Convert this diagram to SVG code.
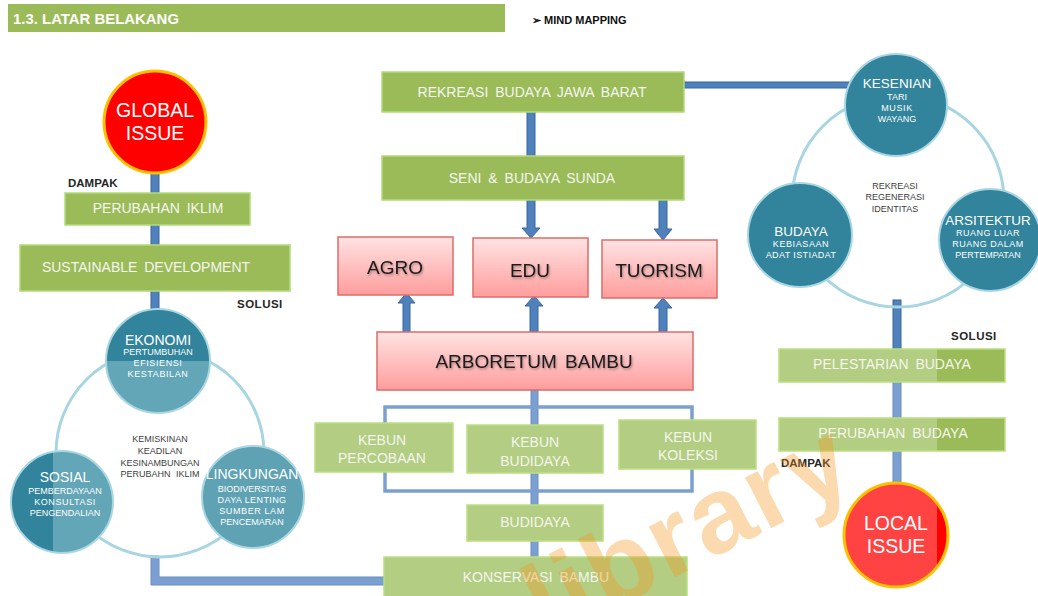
<svg xmlns="http://www.w3.org/2000/svg" width="1038" height="596" viewBox="0 0 1038 596">
<defs>
<style>
.t{font-family:"Liberation Sans",Arial,sans-serif}
.gb{fill:#9bbb59;stroke:#b2dc78;stroke-width:1.5}
.gl{fill:#b3cd82;stroke:#b9e07f;stroke-width:1.5}
.gt{font-family:"Liberation Sans",Arial,sans-serif;font-size:14px;fill:#f4f6ee;text-anchor:middle;word-spacing:3px}
.pk{fill:url(#pink);stroke:#dc6d6a;stroke-width:1.5}
.pt{font-family:"Liberation Sans",Arial,sans-serif;font-size:19px;fill:#1a1a1a;text-anchor:middle;filter:url(#sh)}
.bar{fill:#4f81bd;stroke:#3b669a;stroke-width:1}
.barl{fill:#7b9fd0;stroke:#6a8ec0;stroke-width:1}
.lbl{font-family:"Liberation Sans",Arial,sans-serif;font-size:11.5px;font-weight:bold;fill:#262626}
.ct{font-family:"Liberation Sans",Arial,sans-serif;fill:#ffffff;text-anchor:middle}
.big{font-size:14px}
.sm{font-size:9px}
.mid{font-family:"Liberation Sans",Arial,sans-serif;font-size:9px;fill:#404040;text-anchor:middle}
.ring{fill:none;stroke:#a7d5e2;stroke-width:3}
.tc{stroke:#a8d6e3;stroke-width:2}
</style>
<linearGradient id="pink" x1="0" y1="0" x2="0" y2="1">
<stop offset="0" stop-color="#ffe3e3"/>
<stop offset="1" stop-color="#ff9d9d"/>
</linearGradient>
<filter id="sh" x="-10%" y="-30%" width="120%" height="160%">
<feDropShadow dx="1" dy="1.5" stdDeviation="1" flood-color="#000" flood-opacity="0.35"/>
</filter>
<clipPath id="cEko"><circle cx="158" cy="361" r="52"/></clipPath>
<clipPath id="cSos"><circle cx="62" cy="502" r="51"/></clipPath>
<clipPath id="cLoc"><circle cx="896" cy="535" r="52"/></clipPath>
</defs>

<rect width="1038" height="596" fill="#ffffff"/>

<g id="header">
<rect x="8" y="4" width="497" height="28" fill="#9bbb59"/>
<text class="t" x="13" y="24" font-size="14" font-weight="bold" fill="#ffffff" textLength="166" lengthAdjust="spacingAndGlyphs">1.3. LATAR BELAKANG</text>
<text class="t" x="532" y="24" font-size="11" font-weight="bold" fill="#111">➢ MIND MAPPING</text>
</g>

<g id="connectors">
<rect class="bar" x="151" y="170" width="8" height="142"/>
<path class="barl" d="M151,556 H159 V577 H385 V585 H151 Z"/>
<rect class="bar" x="684" y="82" width="166" height="6"/>
<rect class="bar" x="527" y="110" width="8" height="48"/>
<path class="bar" d="M527,200 H535 V228 H540 L531,238 L522,228 H527 Z"/>
<path class="bar" d="M659,200 H667 V229 H672 L663,240 L654,229 H659 Z"/>
<path class="bar" d="M403,333 H410 V303 H415 L406.5,293 L398,303 H403 Z"/>
<path class="bar" d="M530,333 H538 V306 H543 L534,296 L525,306 H530 Z"/>
<path class="bar" d="M659,333 H667 V308 H672 L663,298 L654,308 H659 Z"/>
<rect class="barl" x="531" y="390" width="7" height="168"/>
<rect x="385" y="407" width="307" height="84" fill="none" stroke="#7ba0cf" stroke-width="3.5"/>
<rect class="bar" x="893" y="300" width="8" height="50"/>
<rect class="barl" x="893" y="350" width="8" height="138"/>
</g>

<g id="global-issue">
<circle cx="155" cy="122" r="51" fill="#ff0000" stroke="#ffc000" stroke-width="3"/>
<text class="ct" x="155" y="117" font-size="19.5">GLOBAL</text>
<text class="ct" x="155" y="140" font-size="19.5">ISSUE</text>
</g>

<text class="lbl" x="68" y="187">DAMPAK</text>

<g id="perubahan-iklim">
<rect class="gb" x="65" y="193" width="185" height="32"/>
<text class="gt" x="158" y="213">PERUBAHAN IKLIM</text>
</g>

<g id="sustainable-development">
<rect class="gb" x="20" y="245" width="270" height="46"/>
<text class="gt" x="146" y="272">SUSTAINABLE DEVELOPMENT</text>
</g>

<text class="lbl" x="237" y="308" letter-spacing="0.5">SOLUSI</text>

<circle class="ring" cx="160" cy="453" r="104"/>

<g id="ekonomi">
<g clip-path="url(#cEko)">
<rect x="100" y="300" width="120" height="61" fill="#31849b"/>
<rect x="100" y="361" width="120" height="60" fill="#63a6b7"/>
</g>
<circle class="tc" cx="158" cy="361" r="52" fill="none"/>
<text class="ct big" x="158" y="345">EKONOMI</text>
<text class="ct sm" x="158" y="355">PERTUMBUHAN</text>
<text class="ct sm" x="158" y="366" letter-spacing="0.6">EFISIENSI</text>
<text class="ct sm" x="158" y="377" letter-spacing="0.6">KESTABILAN</text>
</g>

<g id="sosial">
<g clip-path="url(#cSos)">
<rect x="8" y="448" width="45" height="110" fill="#31849b"/>
<rect x="53" y="448" width="65" height="110" fill="#63a6b7"/>
</g>
<circle class="tc" cx="62" cy="502" r="51" fill="none"/>
<text class="ct big" x="65" y="482">SOSIAL</text>
<text class="ct sm" x="65" y="494">PEMBERDAYAAN</text>
<text class="ct sm" x="65" y="505" letter-spacing="0.6">KONSULTASI</text>
<text class="ct sm" x="65" y="516">PENGENDALIAN</text>
</g>

<g id="lingkungan">
<circle class="tc" cx="253" cy="497" r="51" fill="#5ea2b4"/>
<text class="ct big" x="252" y="479">LINGKUNGAN</text>
<text class="ct sm" x="252" y="492">BIODIVERSITAS</text>
<text class="ct sm" x="252" y="503" letter-spacing="0.4">DAYA LENTING</text>
<text class="ct sm" x="252" y="514" letter-spacing="0.6">SUMBER LAM</text>
<text class="ct sm" x="252" y="525">PENCEMARAN</text>
</g>

<g id="left-center-text">
<text class="mid" x="160" y="442">KEMISKINAN</text>
<text class="mid" x="160" y="454">KEADILAN</text>
<text class="mid" x="160" y="466">KESINAMBUNGAN</text>
<text class="mid" x="160" y="477" word-spacing="3">PERUBAHN IKLIM</text>
</g>

<g id="rekreasi-budaya-jawa-barat">
<rect class="gb" x="382" y="72" width="302" height="40"/>
<text class="gt" x="532" y="97">REKREASI BUDAYA JAWA BARAT</text>
</g>

<g id="seni-budaya-sunda">
<rect class="gb" x="382" y="156" width="302" height="44"/>
<text class="gt" x="532" y="183">SENI &amp; BUDAYA SUNDA</text>
</g>

<g id="agro">
<rect class="pk" x="338" y="237" width="115" height="58"/>
<text class="pt" x="395" y="274">AGRO</text>
</g>
<g id="edu">
<rect class="pk" x="473" y="238" width="115" height="59"/>
<text class="pt" x="530" y="277">EDU</text>
</g>
<g id="tuorism">
<rect class="pk" x="602" y="240" width="115" height="58"/>
<text class="pt" x="659" y="277">TUORISM</text>
</g>

<g id="arboretum-bambu">
<rect class="pk" x="377" y="332" width="316" height="58"/>
<text class="pt" x="534" y="368" word-spacing="3">ARBORETUM BAMBU</text>
</g>

<g id="kebun-percobaan">
<rect class="gl" x="315" y="423" width="138" height="49"/>
<text class="gt" x="382" y="445">KEBUN</text>
<text class="gt" x="382" y="463">PERCOBAAN</text>
</g>
<g id="kebun-budidaya">
<rect class="gl" x="467" y="425" width="136" height="48"/>
<text class="gt" x="535" y="447">KEBUN</text>
<text class="gt" x="535" y="466">BUDIDAYA</text>
</g>
<g id="kebun-koleksi">
<rect class="gl" x="619" y="420" width="137" height="49"/>
<text class="gt" x="688" y="442">KEBUN</text>
<text class="gt" x="688" y="460">KOLEKSI</text>
</g>
<g id="budidaya">
<rect class="gl" x="467" y="505" width="136" height="36"/>
<text class="gt" x="535" y="527">BUDIDAYA</text>
</g>
<g id="konservasi-bambu">
<rect class="gl" x="384" y="557" width="303" height="40"/>
<text class="gt" x="536" y="582">KONSERVASI BAMBU</text>
</g>

<circle class="ring" cx="898" cy="201" r="106"/>

<g id="kesenian">
<circle class="tc" cx="896" cy="105" r="51" fill="#31849b"/>
<text class="ct" x="897" y="88" font-size="13.5">KESENIAN</text>
<text class="ct sm" x="897" y="100">TARI</text>
<text class="ct sm" x="897" y="111" letter-spacing="0.6">MUSIK</text>
<text class="ct sm" x="897" y="122">WAYANG</text>
</g>
<g id="budaya">
<circle class="tc" cx="800" cy="235" r="52" fill="#31849b"/>
<text class="ct" x="801" y="236" font-size="13.5">BUDAYA</text>
<text class="ct sm" x="801" y="247" letter-spacing="0.6">KEBIASAAN</text>
<text class="ct sm" x="801" y="258" letter-spacing="0.4">ADAT ISTIADAT</text>
</g>
<g id="arsitektur">
<circle class="tc" cx="990" cy="240" r="51" fill="#31849b"/>
<text class="ct" x="988" y="225" font-size="13.5">ARSITEKTUR</text>
<text class="ct sm" x="988" y="236" letter-spacing="0.5">RUANG LUAR</text>
<text class="ct sm" x="988" y="247" letter-spacing="0.5">RUANG DALAM</text>
<text class="ct sm" x="988" y="258">PERTEMPATAN</text>
</g>
<g id="right-center-text">
<text class="mid" x="895" y="189">REKREASI</text>
<text class="mid" x="895" y="200">REGENERASI</text>
<text class="mid" x="895" y="212">IDENTITAS</text>
</g>

<text class="lbl" x="951" y="340" letter-spacing="0.5">SOLUSI</text>

<g id="pelestarian-budaya">
<rect class="gl" x="779" y="349" width="226" height="33"/>
<rect x="937" y="349.75" width="67.25" height="31.5" fill="#9bbb59"/>
<text class="gt" x="892" y="369">PELESTARIAN BUDAYA</text>
</g>
<g id="perubahan-budaya">
<rect class="gl" x="779" y="418" width="226" height="33"/>
<rect x="937" y="418.75" width="67.25" height="31.5" fill="#9bbb59"/>
<text class="gt" x="893" y="438" word-spacing="6">PERUBAHAN BUDAYA</text>
</g>

<text class="lbl" x="781" y="467">DAMPAK</text>

<g id="local-issue">
<g clip-path="url(#cLoc)">
<rect x="840" y="480" width="97" height="110" fill="#ff4242"/>
<rect x="937" y="480" width="15" height="110" fill="#ff0000"/>
</g>
<circle cx="896" cy="535" r="52" fill="none" stroke="#ffc000" stroke-width="3"/>
<text class="ct" x="896" y="530" font-size="19.5">LOCAL</text>
<text class="ct" x="896" y="553" font-size="19.5">ISSUE</text>
</g>

<text class="t" transform="translate(548,642) rotate(-27)" font-size="108" font-weight="bold" letter-spacing="3" fill="#f7961f" opacity="0.35">library</text>
</svg>
